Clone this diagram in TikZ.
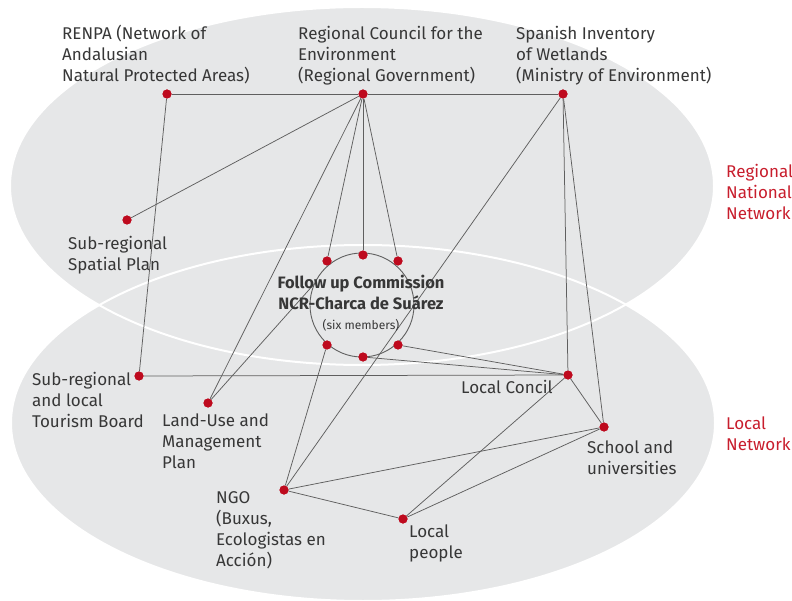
\documentclass[tikz,border=0pt]{standalone}
\usepackage{fontspec}
\setmainfont{Fira Sans}
\definecolor{bggray}{RGB}{230,231,232}
\definecolor{linegray}{RGB}{95,95,95}
\definecolor{dotred}{RGB}{190,10,30}
\definecolor{txtgray}{RGB}{55,55,55}
\definecolor{txtred}{RGB}{200,30,45}
\begin{document}
\begin{tikzpicture}[x=1pt,y=-1pt,
  reddot/.style={circle,fill=dotred,inner sep=0pt,minimum size=9pt},
  lbl/.style={anchor=base west,inner sep=0pt,align=left,text=txtgray,font=\fontsize{17}{21}\selectfont},
  redlbl/.style={lbl,text=txtred},
  link/.style={draw=linegray,line width=0.75pt},
  netshape/.style={fill=bggray},
  netline/.style={draw=white,line width=2pt}]
\useasboundingbox (0,0) rectangle (792,601);
% network ellipses
\fill[netshape] (362,186) ellipse [x radius=352pt, y radius=179pt];
\fill[netshape] (363,423) ellipse [x radius=352pt, y radius=178pt];
\draw[netline] (362,186) ellipse [x radius=352pt, y radius=179pt];
\draw[netline] (363,423) ellipse [x radius=352pt, y radius=178pt];
% commission circle
\node[circle,draw=linegray,line width=0.9pt,minimum size=104pt,inner sep=0pt] (fc) at (362,305) {};
% dots
\node[reddot] (renpa) at (167,94) {};
\node[reddot] (rc) at (363,94) {};
\node[reddot] (si) at (563,94) {};
\node[reddot] (srsp) at (127,220) {};
\node[reddot] (c1) at (327,261) {};
\node[reddot] (c2) at (363,255) {};
\node[reddot] (c3) at (398,261) {};
\node[reddot] (c4) at (327,345) {};
\node[reddot] (c5) at (363,357) {};
\node[reddot] (c6) at (398,345) {};
\node[reddot] (tb) at (139,376) {};
\node[reddot] (lu) at (208,403) {};
\node[reddot] (lc) at (568,375) {};
\node[reddot] (sch) at (604,427) {};
\node[reddot] (ngo) at (284,490) {};
\node[reddot] (lp) at (403,519) {};
% connectors
\path[link] (renpa) -- (rc);
\path[link] (rc) -- (si);
\path[link] (renpa) -- (tb);
\path[link] (rc) -- (srsp);
\path[link] (rc) -- (lu);
\path[link] (rc) -- (c1);
\path[link] (rc) -- (c2);
\path[link] (rc) -- (c3);
\path[link] (si) -- (ngo);
\path[link] (si) -- (lc);
\path[link] (si) -- (sch);
\path[link] (tb) -- (lc);
\path[link] (c6) -- (lc);
\path[link] (c5) -- (lc);
\path[link] (c4) -- (ngo);
\path[link] (lu) -- (fc.157);
\path[link] (lc) -- (lp);
\path[link] (lc) -- (sch);
\path[link] (sch) -- (ngo);
\path[link] (sch) -- (lp);
\path[link] (ngo) -- (lp);
% redraw dots on top
\foreach \n in {renpa,rc,si,srsp,c1,c2,c3,c4,c5,c6,tb,lu,lc,sch,ngo,lp}
  \fill[dotred] (\n.center) circle[radius=4.5pt];
% labels (anchor at baseline of last line)
\node[lbl] (t-renpa) at (62,82) {RENPA (Network of\\Andalusian\\Natural Protected Areas)};
\node[lbl] (t-rc) at (298,82) {Regional Council for the\\Environment\\(Regional Government)};
\node[lbl] (t-si) at (516,82) {Spanish Inventory\\of Wetlands\\(Ministry of Environment)};
\node[lbl] (t-srsp) at (68,271) {Sub-regional\\Spatial Plan};
\node[lbl] (t-tb) at (32,427) {Sub-regional\\and local\\Tourism Board};
\node[lbl] (t-lu) at (162,468) {Land-Use and\\Management\\Plan};
\node[lbl] (t-lc) at (461,393) {Local Concil};
\node[lbl] (t-sch) at (587,474) {School and\\universities};
\node[lbl] (t-ngo) at (216,566) {NGO\\(Buxus,\\Ecologistas en\\Acción)};
\node[lbl] (t-lp) at (409,558) {Local\\people};
\node[redlbl] (t-reg) at (726,220) {Regional\\National\\Network};
\node[redlbl] (t-loc) at (726,450) {Local\\Network};
\node[anchor=base,inner sep=0pt,align=center,text=txtgray,font=\bfseries\fontsize{16.5}{21}\selectfont] (t-fc) at (361,310) {Follow up Commission\\NCR-Charca de Suárez};
\node[anchor=base,inner sep=0pt,text=txtgray,font=\fontsize{12}{14}\selectfont] (t-six) at (361,330) {(six members)};
\end{tikzpicture}
\end{document}
